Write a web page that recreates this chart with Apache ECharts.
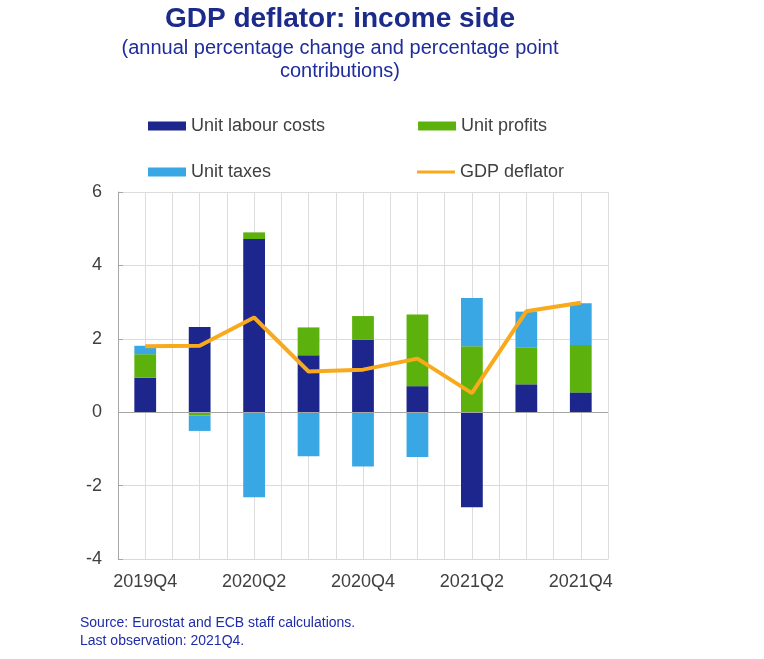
<!DOCTYPE html>
<html>
<head>
<meta charset="utf-8" />
<title>GDP deflator: income side</title>
<script src="https://cdn.jsdelivr.net/npm/echarts@6/dist/echarts.min.js"></script>
<style>
	html, body { margin: 0; padding: 0; background: #fff; }
	#main { width: 764px; height: 659px; }
</style>
</head>
<body>
<div id="main"></div>
<script>
	// quarters on the x axis
	var quarters = ['2019Q4', '2020Q1', '2020Q2', '2020Q3', '2020Q4', '2021Q1', '2021Q2', '2021Q3', '2021Q4'];
	// contributions, percentage points
	var labourCosts = [0.94, 2.32, 4.72, 1.55, 1.97, 0.71, -2.59, 0.76, 0.54];
	var profits = [0.64, -0.09, 0.18, 0.76, 0.65, 1.95, 1.80, 1.01, 1.29];
	var taxes = [0.23, -0.42, -2.32, -1.20, -1.48, -1.22, 1.31, 0.97, 1.14];
	// annual percentage change
	var deflator = [1.80, 1.81, 2.58, 1.11, 1.16, 1.46, 0.52, 2.75, 2.98];
	var yTicks = [-4, -2, 0, 2, 4, 6];

	var navy = '#1c2a8a';
	var grey = '#404040';

	var chart = echarts.init(document.getElementById('main'));
	var legendBase = {
		orient: 'horizontal',
		padding: 0,
		itemWidth: 38,
		itemHeight: 9,
		icon: 'rect',
		selectedMode: false,
		itemStyle: { borderWidth: 0 },
		textStyle: { fontFamily: 'Liberation Sans', fontSize: 18, color: grey, lineHeight: 20 }
	};
	var option = {
		animation: false,
		title: [
			{
				text: 'GDP deflator: income side',
				left: 340, top: 5, textAlign: 'center', padding: 0,
				textStyle: { fontFamily: 'Liberation Sans', fontSize: 28, fontWeight: 'bold', color: navy }
			},
			{
				text: '(annual percentage change and percentage point\ncontributions)',
				left: 340, top: 37, textAlign: 'center', padding: 0,
				textStyle: { fontFamily: 'Liberation Sans', fontSize: 20, fontWeight: 'normal', color: '#1e2c9c', lineHeight: 23 }
			},
			{
				text: 'Source: Eurostat and ECB staff calculations.\nLast observation: 2021Q4.',
				left: 80, top: 614, padding: 0,
				textStyle: { fontFamily: 'Liberation Sans', fontSize: 14, fontWeight: 'normal', color: '#1e2ca8', lineHeight: 18 }
			}
		],
		legend: [
			Object.assign({}, legendBase, { left: 148, top: 116, itemGap: 93, data: ['Unit labour costs', 'Unit profits'] }),
			Object.assign({}, legendBase, { left: 148, top: 162, data: ['Unit taxes'] }),
			Object.assign({}, legendBase, { left: 417, top: 162, itemHeight: 3, data: ['GDP deflator'] })
		],
		grid: { left: 118, right: 156, top: 192, bottom: 100 },
		xAxis: [
			{
				type: 'category',
				data: quarters,
				axisLine: { onZero: false, lineStyle: { color: '#d9d9d9' } },
				axisTick: { show: false },
				axisLabel: {
					interval: 1, margin: 14,
					fontFamily: 'Liberation Sans', fontSize: 18, color: grey
				},
				splitLine: { show: false }
			},
			{
				type: 'value',
				position: 'bottom',
				min: 0, max: quarters.length * 2, interval: 1,
				axisLine: { show: false },
				axisTick: { show: false },
				axisLabel: { show: false },
				splitLine: { show: true, lineStyle: { color: '#dcdcdc', width: 1 } }
			}
		],
		yAxis: {
			type: 'value',
			min: yTicks[0], max: yTicks[yTicks.length - 1], interval: 2,
			axisLine: { show: true, lineStyle: { color: '#a6a6a6' } },
			axisTick: { show: true, inside: true, length: 5, lineStyle: { color: '#a6a6a6' } },
			axisLabel: { margin: 16, fontFamily: 'Liberation Sans', fontSize: 18, color: grey },
			splitLine: { lineStyle: { color: '#dcdcdc', width: 1 } }
		},
		series: [
			{
				name: 'Unit labour costs', type: 'bar', stack: 'c', barWidth: '40%',
				itemStyle: { color: '#1c268c' },
				data: labourCosts,
				markLine: {
					silent: true, symbol: 'none', label: { show: false },
					lineStyle: { color: '#a6a6a6', type: 'solid', width: 1 },
					data: [{ yAxis: 0 }]
				}
			},
			{
				name: 'Unit profits', type: 'bar', stack: 'c', barWidth: '40%',
				itemStyle: { color: '#5db10c' },
				data: profits
			},
			{
				name: 'Unit taxes', type: 'bar', stack: 'c', barWidth: '40%',
				itemStyle: { color: '#39a7e3' },
				data: taxes
			},
			{
				name: 'GDP deflator', type: 'line', symbol: 'none', z: 5,
				lineStyle: { color: '#f8aa1c', width: 4 },
				itemStyle: { color: '#f8aa1c' },
				data: deflator
			}
		]
	};
	chart.setOption(option);
</script>
</body>
</html>
